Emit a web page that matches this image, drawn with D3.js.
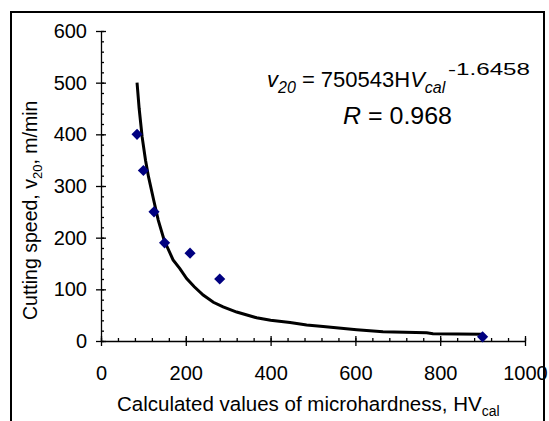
<!doctype html>
<html>
  <head>
    <meta charset="utf-8">
    <title>Cutting speed vs microhardness</title>
    <script src="https://cdnjs.cloudflare.com/ajax/libs/d3/7.8.5/d3.min.js"></script>
    <style>
      body { margin: 0; background: #fff; }
      text { font-family: "Liberation Sans", Arial, sans-serif; fill: #000; }
    </style>
  </head>
  <body>
    <div id="chart"></div>
    <script>
      // measured points
      const hv    = [85, 100, 125, 150, 210, 280, 900];
      const speed = [400, 330, 250, 190, 170, 120, 8];

      // power trendline
      const fitHV    = [85, 90, 97, 105, 112, 125, 135, 149, 170, 186, 202, 220, 241, 265, 288, 320, 367, 400, 446, 485, 524, 603, 665, 768, 783, 900];
      const fitSpeed = [500, 450, 395, 350, 318, 270, 234, 195, 157, 140, 121, 105, 89, 75, 66, 56, 45, 40, 36, 31, 28, 22, 18, 16, 14, 13];

      const xTicks = [0, 200, 400, 600, 800, 1000];
      const yTicks = [0, 100, 200, 300, 400, 500, 600];

      const W = 549, H = 421;
      const svg = d3.select('#chart').append('svg')
        .attr('width', W)
        .attr('height', H);

      // outer frame (bottom edge runs off the picture)
      svg.append('rect')
        .attr('x', 11).attr('y', 12)
        .attr('width', 533).attr('height', 430)
        .attr('fill', 'none')
        .attr('stroke', '#000')
        .attr('stroke-width', 2);

      const x = d3.scaleLinear().domain([0, 1000]).range([101, 525]);
      const y = d3.scaleLinear().domain([0, 600]).range([341, 31]);

      // minor ticks (inside only)
      svg.append('g')
        .attr('transform', `translate(0,${y(0)})`)
        .call(d3.axisBottom(x).tickValues(d3.range(0, 1001, 40)).tickSize(-3).tickFormat(''))
        .call(g => g.select('.domain').remove());
      svg.append('g')
        .attr('transform', `translate(${x(0)},0)`)
        .call(d3.axisLeft(y).tickValues(d3.range(0, 601, 20)).tickSize(-3).tickFormat(''))
        .call(g => g.select('.domain').remove());

      // major axes
      const xAxis = svg.append('g')
        .attr('transform', `translate(0,${y(0)})`)
        .call(d3.axisBottom(x).tickValues(xTicks).tickFormat(d3.format('d'))
          .tickSize(5).tickSizeOuter(0).tickPadding(20));
      xAxis.selectAll('.tick line').attr('y1', -5);
      xAxis.selectAll('text').style('font-size', '20px').attr('dy', '0.71em');

      const yAxis = svg.append('g')
        .attr('transform', `translate(${x(0)},0)`)
        .call(d3.axisLeft(y).tickValues(yTicks).tickSize(5).tickSizeOuter(0).tickPadding(9));
      yAxis.selectAll('.tick line').attr('x1', 5);
      yAxis.selectAll('text').style('font-size', '20px');

      svg.selectAll('.domain, .tick line').attr('stroke', '#000').attr('stroke-width', 1.3);

      // trendline
      svg.append('path')
        .datum(fitHV.map((d, i) => [d, fitSpeed[i]]))
        .attr('fill', 'none')
        .attr('stroke', '#000')
        .attr('stroke-width', 3)
        .attr('d', d3.line().x(d => x(d[0])).y(d => y(d[1])));

      // data points as diamonds
      svg.selectAll('.pt')
        .data(hv.map((d, i) => [d, speed[i]]))
        .join('path')
        .attr('class', 'pt')
        .attr('d', d3.symbol(d3.symbolSquare, 62))
        .attr('transform', d => `translate(${x(d[0])},${y(d[1])}) rotate(45)`)
        .attr('fill', '#000080');

      // axis titles
      const xl = svg.append('text')
        .attr('x', 117).attr('y', 411)
        .style('font-size', '20.5px');
      xl.append('tspan').text('Calculated values of microhardness, HV');
      xl.append('tspan').attr('dy', 5).style('font-size', '14px').text('cal');

      // the title is cut at the frame edge in the original ("m/mir")
      svg.append('clipPath').attr('id', 'ylclip')
        .append('rect').attr('x', 0).attr('y', 60).attr('width', 100).attr('height', 300);
      const yl = svg.append('g').attr('clip-path', 'url(#ylclip)')
        .append('text')
        .attr('transform', 'translate(37,320) rotate(-90)')
        .style('font-size', '19.5px');
      yl.append('tspan').text('Cutting speed, v');
      yl.append('tspan').attr('dy', 5).style('font-size', '13px').text('20');
      yl.append('tspan').attr('dy', -5).text(', m/min');

      // equation
      const eq = svg.append('text')
        .attr('x', 267).attr('y', 87)
        .style('font-size', '22px');
      eq.append('tspan').style('font-style', 'italic').text('v');
      eq.append('tspan').attr('dy', 6).style('font-style', 'italic').style('font-size', '16px').text('20');
      eq.append('tspan').attr('dy', -6).text(' = 750543H');
      eq.append('tspan').style('font-style', 'italic').text('V');
      eq.append('tspan').attr('dy', 6).style('font-style', 'italic').style('font-size', '16px').text('cal');

      svg.append('text')
        .attr('x', 448).attr('y', 75)
        .attr('textLength', 82)
        .attr('lengthAdjust', 'spacingAndGlyphs')
        .style('font-size', '17px')
        .text('-1.6458');

      const rt = svg.append('text')
        .attr('x', 343).attr('y', 124)
        .attr('textLength', 109)
        .attr('lengthAdjust', 'spacingAndGlyphs')
        .style('font-size', '23px');
      rt.append('tspan').style('font-style', 'italic').text('R');
      rt.append('tspan').text(' = 0.968');
    </script>
  </body>
</html>
